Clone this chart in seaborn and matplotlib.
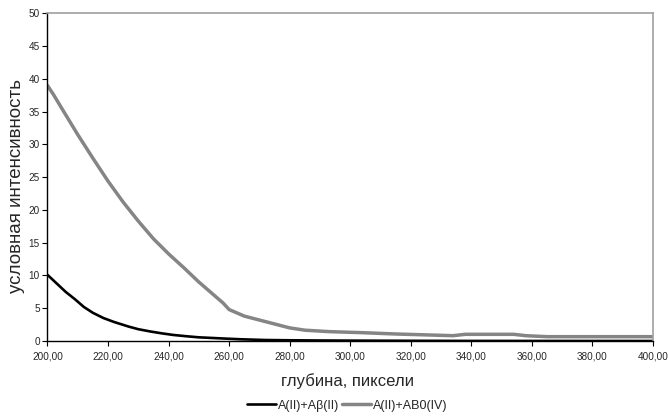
import numpy as np
import pandas as pd
import matplotlib
matplotlib.use("Agg")
import matplotlib.pyplot as plt
from matplotlib.ticker import FuncFormatter
import seaborn as sns

# depth (pixels) and intensity for each sample
depth_a = [200, 203, 206, 209, 212, 215, 218.5, 222, 226.8, 230, 234, 238, 241.6,
           246, 250, 255, 259, 264, 272, 280, 290, 305, 320, 340, 400]
intensity_a = [10.1, 8.8, 7.5, 6.4, 5.2, 4.3, 3.5, 2.9, 2.2, 1.8, 1.45, 1.15, 0.92,
               0.72, 0.56, 0.45, 0.36, 0.26, 0.15, 0.11, 0.08, 0.05, 0.03, 0.01, 0.0]

depth_b = [200, 202, 205, 210, 215, 220, 225, 230, 235, 240, 245, 250, 255,
           258, 260, 265, 270, 275, 280, 285, 293, 304, 315, 326, 334, 338,
           354, 358, 365, 400]
intensity_b = [39.0, 37.6, 35.3, 31.5, 27.9, 24.4, 21.2, 18.3, 15.6, 13.3, 11.2, 9.0, 7.0,
               5.8, 4.8, 3.8, 3.2, 2.6, 2.0, 1.65, 1.43, 1.27, 1.07, 0.92, 0.81, 1.02,
               1.02, 0.81, 0.66, 0.66]

series_names = ["A(II)+Aβ(II)", "A(II)+AB0(IV)"]
x_ticks = [200, 220, 240, 260, 280, 300, 320, 340, 360, 380, 400]
y_ticks = [0, 5, 10, 15, 20, 25, 30, 35, 40, 45, 50]

sns.set_theme(style="white")
plt.rcParams["font.family"] = ["Liberation Sans", "DejaVu Sans"]

fig = plt.figure(figsize=(6.68, 4.16), dpi=100)
ax = fig.add_axes([0.0711, 0.1803, 0.9064, 0.7873])

df_a = pd.DataFrame({"x": depth_a, "y": intensity_a})
df_b = pd.DataFrame({"x": depth_b, "y": intensity_b})
sns.lineplot(data=df_a, x="x", y="y", ax=ax, color="black", lw=1.9,
             sort=False, estimator=None, label=series_names[0])
sns.lineplot(data=df_b, x="x", y="y", ax=ax, color="#858585", lw=2.5,
             sort=False, estimator=None, label=series_names[1])

ax.set_xlim(200, 400)
ax.set_ylim(0, 50)
ax.set_xticks(x_ticks)
ax.set_yticks(y_ticks)
ax.xaxis.set_major_formatter(FuncFormatter(lambda v, p: f"{v:.2f}".replace(".", ",")))
ax.tick_params(axis="both", which="major", labelsize=7.2, length=3.5, width=0.8,
               color="black", direction="out", pad=2, bottom=True, left=True)
ax.tick_params(axis="x", pad=4)

for side in ("left", "bottom"):
    ax.spines[side].set_color("black")
    ax.spines[side].set_linewidth(1.0)
for side in ("top", "right"):
    ax.spines[side].set_color("#a0a0a0")
    ax.spines[side].set_linewidth(1.2)

ax.set_xlabel("глубина, пиксели", fontsize=12)
ax.set_ylabel("условная интенсивность", fontsize=13.5)
ax.xaxis.label.set_va("center")
ax.yaxis.label.set_va("center")
ax.xaxis.set_label_coords(0.495, -0.122)
ax.yaxis.set_label_coords(-0.0505, 0.474)

ax.legend(loc="center", bbox_to_anchor=(0.52, 0.025), bbox_transform=fig.transFigure,
          ncol=2, frameon=False, fontsize=9, handlelength=2.3, handletextpad=0.15,
          columnspacing=0.25, borderpad=0)

fig.savefig("out.png", dpi=100)
